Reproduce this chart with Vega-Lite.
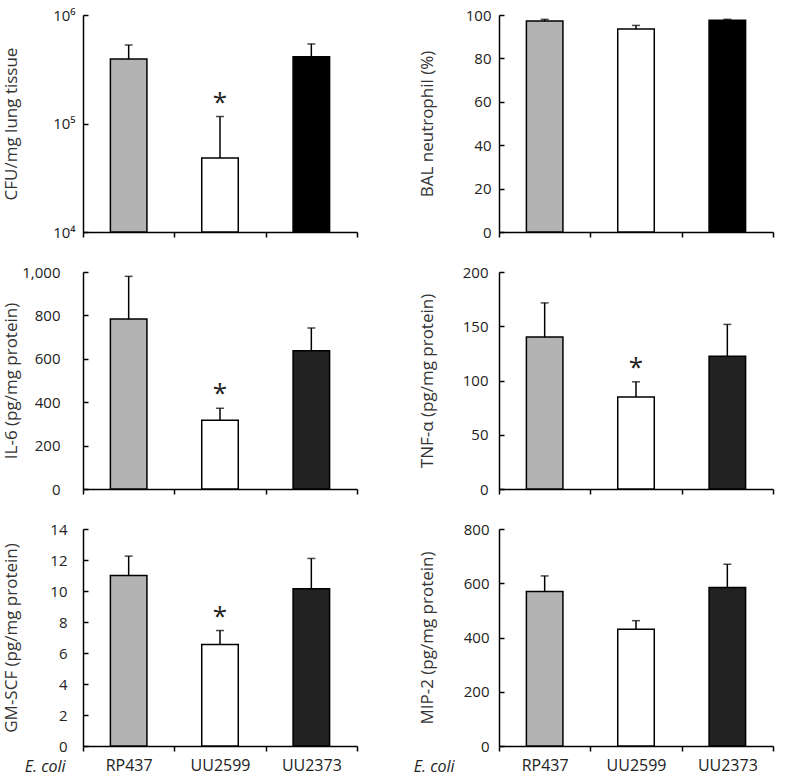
{
  "$schema": "https://vega.github.io/schema/vega-lite/v6.json",
  "padding": {"left": 1, "top": 8, "right": 5, "bottom": 5},
  "background": "white",
  "datasets": {
    "d": [
      {"panel": "cfu", "strain": "RP437", "value": 393000, "upper": 529000, "sig": ""},
      {"panel": "cfu", "strain": "UU2599", "value": 48000, "upper": 116000, "sig": "*"},
      {"panel": "cfu", "strain": "UU2373", "value": 413000, "upper": 541000, "sig": ""},
      {"panel": "bal", "strain": "RP437", "value": 97.2, "upper": 98.0, "sig": ""},
      {"panel": "bal", "strain": "UU2599", "value": 93.5, "upper": 95.2, "sig": ""},
      {"panel": "bal", "strain": "UU2373", "value": 97.6, "upper": 98.0, "sig": ""},
      {"panel": "il6", "strain": "RP437", "value": 783, "upper": 980, "sig": ""},
      {"panel": "il6", "strain": "UU2599", "value": 317, "upper": 372, "sig": "*"},
      {"panel": "il6", "strain": "UU2373", "value": 637, "upper": 742, "sig": ""},
      {"panel": "tnf", "strain": "RP437", "value": 140, "upper": 171.5, "sig": ""},
      {"panel": "tnf", "strain": "UU2599", "value": 84.7, "upper": 98.8, "sig": "*"},
      {"panel": "tnf", "strain": "UU2373", "value": 122.3, "upper": 151.7, "sig": ""},
      {"panel": "gm", "strain": "RP437", "value": 11.0, "upper": 12.25, "sig": ""},
      {"panel": "gm", "strain": "UU2599", "value": 6.55, "upper": 7.45, "sig": "*"},
      {"panel": "gm", "strain": "UU2373", "value": 10.15, "upper": 12.1, "sig": ""},
      {"panel": "mip", "strain": "RP437", "value": 570, "upper": 627, "sig": ""},
      {"panel": "mip", "strain": "UU2599", "value": 430, "upper": 462, "sig": ""},
      {"panel": "mip", "strain": "UU2373", "value": 584, "upper": 670, "sig": ""}
    ]
  },
  "columns": 2,
  "spacing": {"row": 40, "column": 142},
  "bounds": "flush",
  "resolve": {"scale": {"fill": "independent", "y": "independent", "x": "independent"}},
  "concat": [
    {
      "width": 274, "height": 217,
      "data": {"name": "d"},
      "transform": [{"filter": "datum.panel == 'cfu'"}],
      "encoding": {"x": {"field": "strain", "type": "nominal", "sort": ["RP437", "UU2599", "UU2373"], "scale": {"paddingInner": 0, "paddingOuter": 0}, "axis": {"labels": false, "title": null, "tickBand": "extent"}}},
      "layer": [
        {"mark": {"type": "bar", "width": {"band": 0.4}, "stroke": "black", "strokeWidth": 1.5},
         "encoding": {
           "y": {"field": "value", "type": "quantitative", "scale": {"type": "log", "domain": [10000, 1000000], "nice": false}, "axis": {"title": "CFU/mg lung tissue", "labelPadding": 13, "values": [10000, 100000, 1000000], "labelExpr": "datum.value == 10000 ? '10⁴' : datum.value == 100000 ? '10⁵' : '10⁶'"}},
           "y2": {"datum": 10000},
           "fill": {"field": "strain", "type": "nominal", "scale": {"domain": ["RP437", "UU2599", "UU2373"], "range": ["#b3b3b3", "#ffffff", "#000000"]}, "legend": null}}},
        {"mark": {"type": "rule", "strokeWidth": 1.5, "color": "black"}, "encoding": {"y": {"field": "value", "type": "quantitative", "axis": {"title": "CFU/mg lung tissue", "labelPadding": 13, "values": [10000, 100000, 1000000], "labelExpr": "datum.value == 10000 ? '10⁴' : datum.value == 100000 ? '10⁵' : '10⁶'"}}, "y2": {"field": "upper"}}},
        {"mark": {"type": "tick", "thickness": 1.5, "size": 8, "color": "black"}, "encoding": {"y": {"field": "upper", "type": "quantitative", "axis": {"title": "CFU/mg lung tissue", "labelPadding": 13, "values": [10000, 100000, 1000000], "labelExpr": "datum.value == 10000 ? '10⁴' : datum.value == 100000 ? '10⁵' : '10⁶'"}}}},
        {"mark": {"type": "text", "fontSize": 26, "baseline": "alphabetic", "dy": -6, "font": "Open Sans", "color": "#222"}, "encoding": {"y": {"field": "upper", "type": "quantitative", "axis": {"title": "CFU/mg lung tissue", "labelPadding": 13, "values": [10000, 100000, 1000000], "labelExpr": "datum.value == 10000 ? '10⁴' : datum.value == 100000 ? '10⁵' : '10⁶'"}}, "text": {"field": "sig"}}}
      ]
    },
    {
      "width": 274, "height": 217,
      "data": {"name": "d"},
      "transform": [{"filter": "datum.panel == 'bal'"}],
      "encoding": {"x": {"field": "strain", "type": "nominal", "sort": ["RP437", "UU2599", "UU2373"], "scale": {"paddingInner": 0, "paddingOuter": 0}, "axis": {"labels": false, "title": null, "tickBand": "extent"}}},
      "layer": [
        {"mark": {"type": "bar", "width": {"band": 0.4}, "stroke": "black", "strokeWidth": 1.5},
         "encoding": {
           "y": {"field": "value", "type": "quantitative", "scale": {"domain": [0, 100], "nice": false}, "axis": {"title": "BAL neutrophil (%)", "labelPadding": 13, "values": [0, 20, 40, 60, 80, 100]}},
           "fill": {"field": "strain", "type": "nominal", "scale": {"domain": ["RP437", "UU2599", "UU2373"], "range": ["#b3b3b3", "#ffffff", "#000000"]}, "legend": null}}},
        {"mark": {"type": "rule", "strokeWidth": 1.5, "color": "black"}, "encoding": {"y": {"field": "value", "type": "quantitative", "axis": {"title": "BAL neutrophil (%)", "labelPadding": 13, "values": [0, 20, 40, 60, 80, 100]}}, "y2": {"field": "upper"}}},
        {"mark": {"type": "tick", "thickness": 1.5, "size": 8, "color": "black"}, "encoding": {"y": {"field": "upper", "type": "quantitative", "axis": {"title": "BAL neutrophil (%)", "labelPadding": 13, "values": [0, 20, 40, 60, 80, 100]}}}}
      ]
    },
    {
      "width": 274, "height": 217,
      "data": {"name": "d"},
      "transform": [{"filter": "datum.panel == 'il6'"}],
      "encoding": {"x": {"field": "strain", "type": "nominal", "sort": ["RP437", "UU2599", "UU2373"], "scale": {"paddingInner": 0, "paddingOuter": 0}, "axis": {"labels": false, "title": null, "tickBand": "extent"}}},
      "layer": [
        {"mark": {"type": "bar", "width": {"band": 0.4}, "stroke": "black", "strokeWidth": 1.5},
         "encoding": {
           "y": {"field": "value", "type": "quantitative", "scale": {"domain": [0, 1000], "nice": false}, "axis": {"title": "IL-6 (pg/mg protein)", "labelPadding": 28, "values": [0, 200, 400, 600, 800, 1000], "format": ",d"}},
           "fill": {"field": "strain", "type": "nominal", "scale": {"domain": ["RP437", "UU2599", "UU2373"], "range": ["#b3b3b3", "#ffffff", "#222222"]}, "legend": null}}},
        {"mark": {"type": "rule", "strokeWidth": 1.5, "color": "black"}, "encoding": {"y": {"field": "value", "type": "quantitative", "axis": {"title": "IL-6 (pg/mg protein)", "labelPadding": 28, "values": [0, 200, 400, 600, 800, 1000], "format": ",d"}}, "y2": {"field": "upper"}}},
        {"mark": {"type": "tick", "thickness": 1.5, "size": 8, "color": "black"}, "encoding": {"y": {"field": "upper", "type": "quantitative", "axis": {"title": "IL-6 (pg/mg protein)", "labelPadding": 28, "values": [0, 200, 400, 600, 800, 1000], "format": ",d"}}}},
        {"mark": {"type": "text", "fontSize": 26, "baseline": "alphabetic", "dy": -6, "font": "Open Sans", "color": "#222"}, "encoding": {"y": {"field": "upper", "type": "quantitative", "axis": {"title": "IL-6 (pg/mg protein)", "labelPadding": 28, "values": [0, 200, 400, 600, 800, 1000], "format": ",d"}}, "text": {"field": "sig"}}}
      ]
    },
    {
      "width": 274, "height": 217,
      "data": {"name": "d"},
      "transform": [{"filter": "datum.panel == 'tnf'"}],
      "encoding": {"x": {"field": "strain", "type": "nominal", "sort": ["RP437", "UU2599", "UU2373"], "scale": {"paddingInner": 0, "paddingOuter": 0}, "axis": {"labels": false, "title": null, "tickBand": "extent"}}},
      "layer": [
        {"mark": {"type": "bar", "width": {"band": 0.4}, "stroke": "black", "strokeWidth": 1.5},
         "encoding": {
           "y": {"field": "value", "type": "quantitative", "scale": {"domain": [0, 200], "nice": false}, "axis": {"title": "TNF-α (pg/mg protein)", "labelPadding": 16, "values": [0, 50, 100, 150, 200]}},
           "fill": {"field": "strain", "type": "nominal", "scale": {"domain": ["RP437", "UU2599", "UU2373"], "range": ["#b3b3b3", "#ffffff", "#222222"]}, "legend": null}}},
        {"mark": {"type": "rule", "strokeWidth": 1.5, "color": "black"}, "encoding": {"y": {"field": "value", "type": "quantitative", "axis": {"title": "TNF-α (pg/mg protein)", "labelPadding": 16, "values": [0, 50, 100, 150, 200]}}, "y2": {"field": "upper"}}},
        {"mark": {"type": "tick", "thickness": 1.5, "size": 8, "color": "black"}, "encoding": {"y": {"field": "upper", "type": "quantitative", "axis": {"title": "TNF-α (pg/mg protein)", "labelPadding": 16, "values": [0, 50, 100, 150, 200]}}}},
        {"mark": {"type": "text", "fontSize": 26, "baseline": "alphabetic", "dy": -6, "font": "Open Sans", "color": "#222"}, "encoding": {"y": {"field": "upper", "type": "quantitative", "axis": {"title": "TNF-α (pg/mg protein)", "labelPadding": 16, "values": [0, 50, 100, 150, 200]}}, "text": {"field": "sig"}}}
      ]
    },
    {
      "width": 274, "height": 217,
      "data": {"name": "d"},
      "transform": [{"filter": "datum.panel == 'gm'"}],
      "encoding": {"x": {"field": "strain", "type": "nominal", "sort": ["RP437", "UU2599", "UU2373"], "scale": {"paddingInner": 0, "paddingOuter": 0}, "axis": {"labels": true, "labelAngle": 0, "labelFontSize": 16, "labelPadding": 6, "title": "E. coli", "titleFontStyle": "italic", "titleFontSize": 16, "titleColor": "#222", "titleAlign": "right", "titleBaseline": "middle", "titleX": -18, "titleY": 20, "tickBand": "extent"}}},
      "layer": [
        {"mark": {"type": "bar", "width": {"band": 0.4}, "stroke": "black", "strokeWidth": 1.5},
         "encoding": {
           "y": {"field": "value", "type": "quantitative", "scale": {"domain": [0, 14], "nice": false}, "axis": {"title": "GM-SCF (pg/mg protein)", "labelPadding": 21, "values": [0, 2, 4, 6, 8, 10, 12, 14]}},
           "fill": {"field": "strain", "type": "nominal", "scale": {"domain": ["RP437", "UU2599", "UU2373"], "range": ["#b3b3b3", "#ffffff", "#222222"]}, "legend": null}}},
        {"mark": {"type": "rule", "strokeWidth": 1.5, "color": "black"}, "encoding": {"y": {"field": "value", "type": "quantitative", "axis": {"title": "GM-SCF (pg/mg protein)", "labelPadding": 21, "values": [0, 2, 4, 6, 8, 10, 12, 14]}}, "y2": {"field": "upper"}}},
        {"mark": {"type": "tick", "thickness": 1.5, "size": 8, "color": "black"}, "encoding": {"y": {"field": "upper", "type": "quantitative", "axis": {"title": "GM-SCF (pg/mg protein)", "labelPadding": 21, "values": [0, 2, 4, 6, 8, 10, 12, 14]}}}},
        {"mark": {"type": "text", "fontSize": 26, "baseline": "alphabetic", "dy": -6, "font": "Open Sans", "color": "#222"}, "encoding": {"y": {"field": "upper", "type": "quantitative", "axis": {"title": "GM-SCF (pg/mg protein)", "labelPadding": 21, "values": [0, 2, 4, 6, 8, 10, 12, 14]}}, "text": {"field": "sig"}}}
      ]
    },
    {
      "width": 274, "height": 217,
      "data": {"name": "d"},
      "transform": [{"filter": "datum.panel == 'mip'"}],
      "encoding": {"x": {"field": "strain", "type": "nominal", "sort": ["RP437", "UU2599", "UU2373"], "scale": {"paddingInner": 0, "paddingOuter": 0}, "axis": {"labels": true, "labelAngle": 0, "labelFontSize": 16, "labelPadding": 6, "title": "E. coli", "titleFontStyle": "italic", "titleFontSize": 16, "titleColor": "#222", "titleAlign": "right", "titleBaseline": "middle", "titleX": -45, "titleY": 20, "tickBand": "extent"}}},
      "layer": [
        {"mark": {"type": "bar", "width": {"band": 0.4}, "stroke": "black", "strokeWidth": 1.5},
         "encoding": {
           "y": {"field": "value", "type": "quantitative", "scale": {"domain": [0, 800], "nice": false}, "axis": {"title": "MIP-2 (pg/mg protein)", "labelPadding": 15, "values": [0, 200, 400, 600, 800]}},
           "fill": {"field": "strain", "type": "nominal", "scale": {"domain": ["RP437", "UU2599", "UU2373"], "range": ["#b3b3b3", "#ffffff", "#222222"]}, "legend": null}}},
        {"mark": {"type": "rule", "strokeWidth": 1.5, "color": "black"}, "encoding": {"y": {"field": "value", "type": "quantitative", "axis": {"title": "MIP-2 (pg/mg protein)", "labelPadding": 15, "values": [0, 200, 400, 600, 800]}}, "y2": {"field": "upper"}}},
        {"mark": {"type": "tick", "thickness": 1.5, "size": 8, "color": "black"}, "encoding": {"y": {"field": "upper", "type": "quantitative", "axis": {"title": "MIP-2 (pg/mg protein)", "labelPadding": 15, "values": [0, 200, 400, 600, 800]}}}}
      ]
    }
  ],
  "config": {
    "view": {"stroke": null},
    "axis": {"grid": false, "domainColor": "black", "domainWidth": 1.5, "tickColor": "black", "tickWidth": 1.5, "tickSize": 5, "labelFont": "Open Sans", "labelFontSize": 15, "labelColor": "#222", "labelPadding": 5, "labelOverlap": false, "titleFont": "Open Sans", "titleFontSize": 17, "titleFontWeight": "normal", "titleColor": "#333"},
    "axisY": {"titleX": -72, "titleBaseline": "middle", "titleAngle": -90, "tickSize": -5}
  }
}
